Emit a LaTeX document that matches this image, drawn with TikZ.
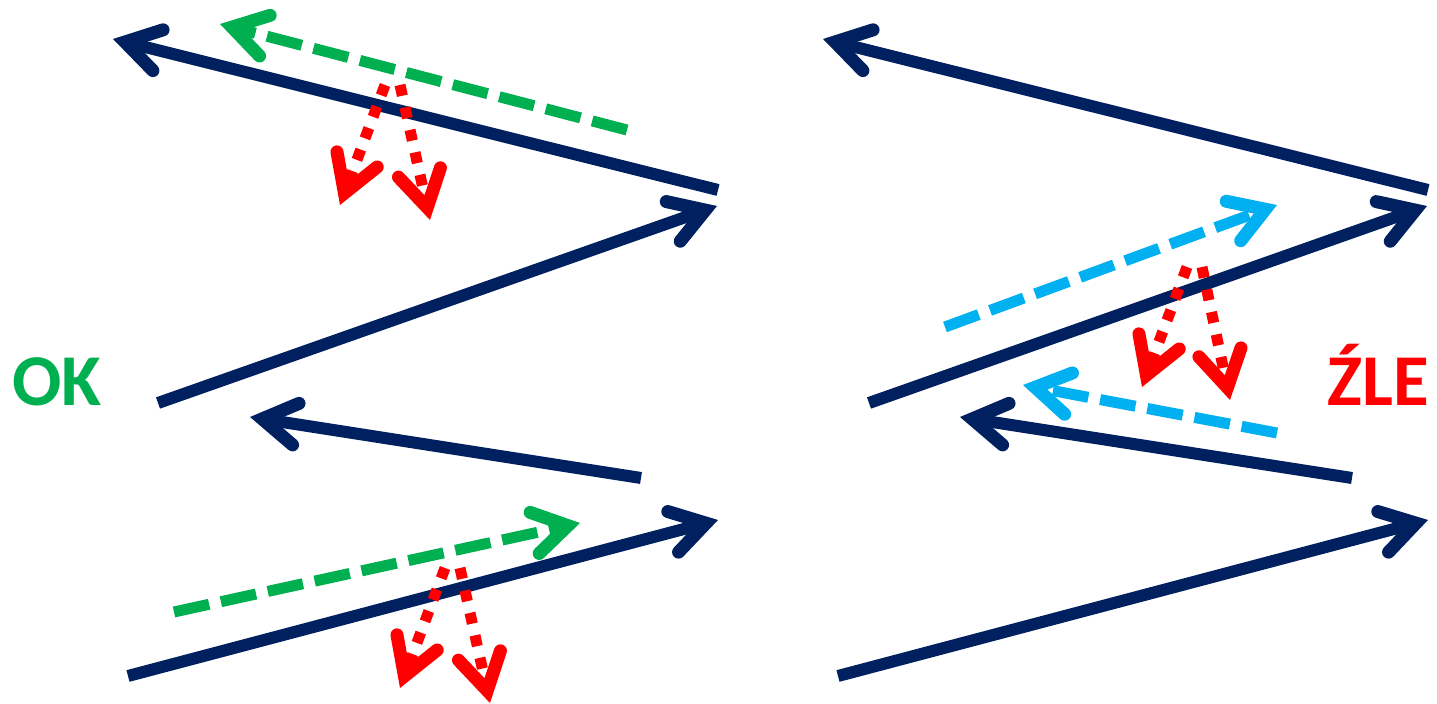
\documentclass[tikz,border=0pt]{standalone}
\usepackage{fontspec}
\setmainfont{Carlito}
\usetikzlibrary{arrows.meta}
\definecolor{navy}{HTML}{002060}
\definecolor{okgreen}{HTML}{00B050}
\definecolor{errred}{HTML}{FF0000}
\definecolor{lblue}{HTML}{00B0F0}
\tikzset{
  mainarrow/.style={draw=navy, line width=6pt,
    -{Straight Barb[length=17pt,width=21pt,line width=6.5pt,line cap=round,line join=miter]}},
  goodarrow/.style={draw=okgreen, line width=5.5pt, dash pattern=on 18pt off 6pt,
    -{Straight Barb[length=17pt,width=21pt,line width=6.5pt,line cap=round,line join=miter]}},
  badarrow/.style={draw=lblue, line width=5.5pt, dash pattern=on 18pt off 6pt,
    -{Straight Barb[length=17pt,width=21pt,line width=6.5pt,line cap=round,line join=miter]}},
  reflarrow/.style={draw=errred, line width=5.5pt, dash pattern=on 5.5pt off 6pt,
    -{Straight Barb[length=18pt,width=21.5pt,line width=6.5pt,line cap=round,line join=miter]}},
  lbl/.style={inner sep=0pt, font=\fontsize{36.5}{40}\selectfont\bfseries}
}
\begin{document}
\begin{tikzpicture}[x=0.5pt,y=-0.5pt]
\useasboundingbox (0,0) rectangle (1437,704);
% left column coordinates
\coordinate (a1s) at (718,190); \coordinate (a1e) at (113,39);
\coordinate (a2s) at (158,403); \coordinate (a2e) at (717,206);
\coordinate (a3s) at (641,478); \coordinate (a3e) at (250,417);
\coordinate (a4s) at (128,676); \coordinate (a4e) at (718,520);
\coordinate (g1s) at (627,130); \coordinate (g1e) at (220,24);
\coordinate (g2s) at (174,612); \coordinate (g2e) at (580,523);
\coordinate (r1s) at (385,85);  \coordinate (r1e) at (340,205);
\coordinate (r2s) at (400,85);  \coordinate (r2e) at (430,220);
\coordinate (r3s) at (445,568); \coordinate (r3e) at (400,688);
\coordinate (r4s) at (460,568); \coordinate (r4e) at (490,703);
% right column coordinates
\coordinate (b1s) at (1428,190); \coordinate (b1e) at (823,39);
\coordinate (b2s) at (869,403);  \coordinate (b2e) at (1427,206);
\coordinate (b3s) at (1352,478); \coordinate (b3e) at (960,417);
\coordinate (b4s) at (838,676);  \coordinate (b4e) at (1428,520);
\coordinate (c1s) at (945,327);  \coordinate (c1e) at (1277,205);
\coordinate (c2s) at (1277,433); \coordinate (c2e) at (1023,385);
\coordinate (q1s) at (1187,267); \coordinate (q1e) at (1142,387);
\coordinate (q2s) at (1202,267); \coordinate (q2e) at (1230,400);
% navy arrows
\draw[mainarrow] (a1s) -- (a1e);
\draw[mainarrow] (a2s) -- (a2e);
\draw[mainarrow] (a3s) -- (a3e);
\draw[mainarrow] (a4s) -- (a4e);
\draw[mainarrow] (b1s) -- (b1e);
\draw[mainarrow] (b2s) -- (b2e);
\draw[mainarrow] (b3s) -- (b3e);
\draw[mainarrow] (b4s) -- (b4e);
% dashed arrows
\draw[goodarrow] (g1s) -- (g1e);
\draw[goodarrow] (g2s) -- (g2e);
\draw[badarrow] (c1s) -- (c1e);
\draw[badarrow] (c2s) -- (c2e);
% dotted red arrows
\draw[reflarrow] (r1s) -- (r1e);
\draw[reflarrow] (r2s) -- (r2e);
\draw[reflarrow] (r3s) -- (r3e);
\draw[reflarrow] (r4s) -- (r4e);
\draw[reflarrow] (q1s) -- (q1e);
\draw[reflarrow] (q2s) -- (q2e);
% labels
\node[lbl, text=okgreen, anchor=base west] (ok) at (12,406) {OK};
\node[lbl, text=errred, anchor=base east] (zle) at (1429,406) {ŹLE};
\end{tikzpicture}
\end{document}
